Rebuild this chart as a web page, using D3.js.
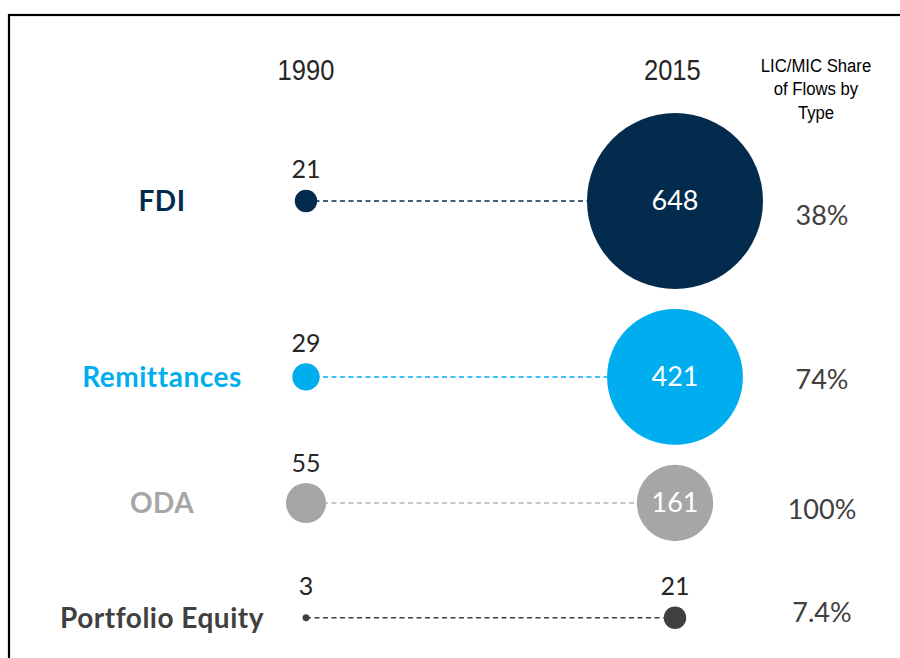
<!DOCTYPE html>
<html>
<head>
<meta charset="utf-8">
<script src="https://cdn.jsdelivr.net/npm/d3@7"></script>
<style>
  html, body { margin: 0; padding: 0; background: #fff; }
  svg { display: block; }
</style>
</head>
<body>
<svg id="chart" width="900" height="658"></svg>
<script>
// Financial flows to developing countries, 1990 vs 2015 (USD bn)

const categories = ["FDI", "Remittances", "ODA", "Portfolio Equity"];
const years = [1990, 2015];
const values1990 = [21, 29, 55, 3];
const values2015 = [648, 421, 161, 21];
const shares = ["38%", "74%", "100%", "7.4%"];
const shareTitle = ["LIC/MIC Share", "of Flows by", "Type"];

const COLORS = {
    "FDI":              "#022b4e",
    "Remittances":      "#00adef",
    "ODA":              "#a6a6a6",
    "Portfolio Equity": "#404040",
};
const LINE_COLORS = {
    "FDI":              "#022b4e",
    "Remittances":      "#00adef",
    "ODA":              "#b5b5b5",
    "Portfolio Equity": "#404040",
};

const W = 900, H = 658;
const svg = d3.select("#chart");

// Frame (only top and left edges fall inside the picture)
svg.append("rect")
    .attr("x", 9).attr("y", 15)
    .attr("width", W + 20).attr("height", H + 20)
    .attr("fill", "none")
    .attr("stroke", "#000")
    .attr("stroke-width", 2.2);

const rows = categories.map((c, i) => ({
    cat: c, v0: values1990[i], v1: values2015[i], share: shares[i]
}));

// bubble size
const r = d3.scalePow().exponent(0.6).domain([0, d3.max(values2015)]).range([0, 88]);
const inside = d => r(d) > 30;   // 2015 label goes inside the bubble

// columns
const x = d3.scaleLinear().domain(years).range([306, 675]);
const labelX = x(1990) - 144;
const shareX = x(2015) + 147;

// rows stacked by the room each 2015 bubble (and its label) needs
const gap = 20;
const labelRoom = 44.6;
let cursor = 113;
rows.forEach(d => {
    const r1 = r(d.v1);
    const up = inside(d.v1) ? r1 : Math.max(r1, 12) + labelRoom;
    cursor += up;
    d.y = cursor;
    cursor += r1 + gap;
});

const numFont = "Lato, 'Open Sans', sans-serif";
const narrowFont = "'Liberation Sans Narrow', 'Liberation Sans', Arial, sans-serif";

// Year headers
svg.append("g")
    .selectAll("text")
    .data(years)
    .join("text")
    .attr("x", d => x(d) - (d === 2015 ? 3 : 0))
    .attr("y", 80)
    .attr("text-anchor", "middle")
    .attr("font-family", narrowFont)
    .attr("font-size", "29px")
    .attr("fill", "#262626")
    .attr("transform", d => `translate(${x(d) * 0.12},0) scale(0.88,1)`)
    .text(d => d);

// Share column title
svg.append("g")
    .selectAll("text")
    .data(shareTitle)
    .join("text")
    .attr("x", shareX - 6)
    .attr("y", (d, i) => 72 + i * 23.5)
    .attr("text-anchor", "middle")
    .attr("font-family", narrowFont)
    .attr("font-size", "19px")
    .attr("fill", "#000")
    .attr("transform", `translate(${(shareX - 6) * 0.12},0) scale(0.88,1)`)
    .text(d => d);

const row = svg.append("g")
    .selectAll("g")
    .data(rows)
    .join("g");

// dashed connectors
row.append("line")
    .attr("x1", x(1990))
    .attr("x2", d => x(2015) - r(d.v1))
    .attr("y1", d => d.y)
    .attr("y2", d => d.y)
    .attr("stroke", d => LINE_COLORS[d.cat])
    .attr("stroke-width", 1.5)
    .attr("stroke-dasharray", "5,3.5");

// 1990 bubbles
row.append("circle")
    .attr("cx", x(1990))
    .attr("cy", d => d.y)
    .attr("r", d => r(d.v0))
    .attr("fill", d => COLORS[d.cat]);

// 2015 bubbles
row.append("circle")
    .attr("cx", x(2015))
    .attr("cy", d => d.y)
    .attr("r", d => r(d.v1))
    .attr("fill", d => COLORS[d.cat]);

// 1990 value labels
row.append("text")
    .attr("x", x(1990))
    .attr("y", d => d.y - Math.max(r(d.v0), 12) - 11)
    .attr("text-anchor", "middle")
    .attr("font-family", numFont)
    .attr("font-size", "25px")
    .attr("fill", "#262626")
    .text(d => d.v0);

// 2015 value labels: inside big bubbles, above small ones
row.append("text")
    .attr("x", x(2015))
    .attr("y", d => inside(d.v1) ? d.y + 9 : d.y - Math.max(r(d.v1), 12) - 11)
    .attr("text-anchor", "middle")
    .attr("font-family", numFont)
    .attr("font-size", d => inside(d.v1) ? "27px" : "25px")
    .attr("fill", d => inside(d.v1) ? "#fff" : "#262626")
    .text(d => d.v1);

// category labels
row.append("text")
    .attr("x", labelX)
    .attr("y", d => d.y + 10)
    .attr("text-anchor", "middle")
    .attr("font-family", numFont)
    .attr("font-weight", "bold")
    .attr("font-size", "28px")
    .attr("letter-spacing", "0.5px")
    .attr("fill", d => COLORS[d.cat])
    .text(d => d.cat);

// share values
row.append("text")
    .attr("x", shareX)
    .attr("y", d => d.y + (d.cat === "Portfolio Equity" ? 4 : d.cat === "FDI" ? 24 : d.cat === "ODA" ? 16 : 12))
    .attr("text-anchor", "middle")
    .attr("font-family", numFont)
    .attr("font-size", "27px")
    .attr("fill", "#404040")
    .text(d => d.share);
</script>
</body>
</html>
